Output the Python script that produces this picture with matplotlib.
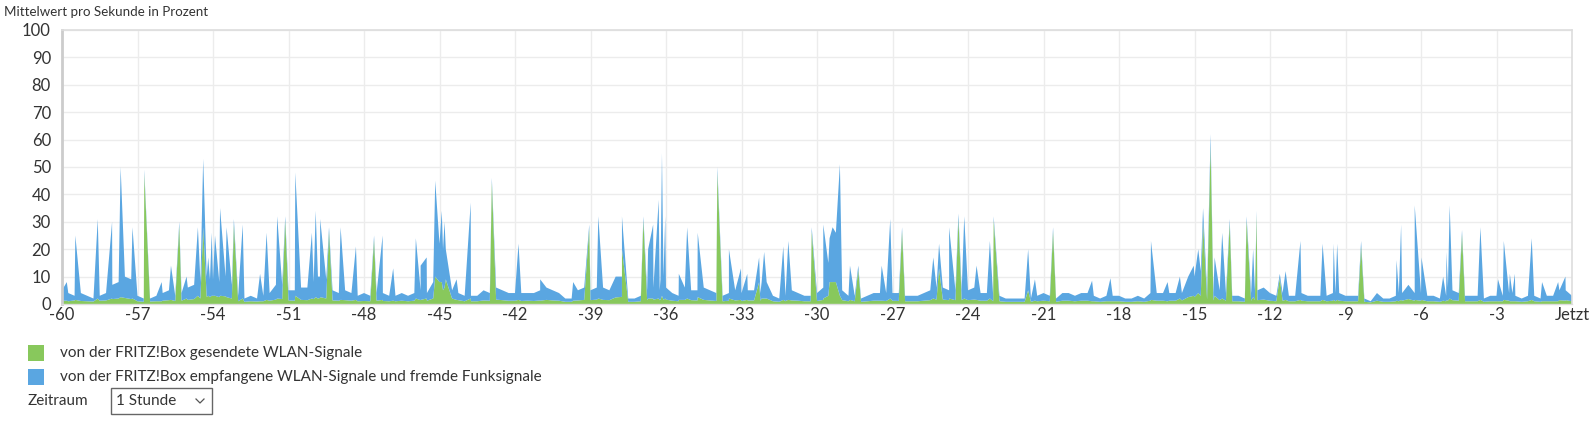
import numpy as np
import matplotlib
matplotlib.use('Agg')
import matplotlib.pyplot as plt
from matplotlib.patches import Rectangle
from matplotlib.lines import Line2D

# ---------------- data ----------------
# baseline samples every 0.25 min from -60 to 0 (total height = sent + received)
total_base = [
    5, 4, 3, 4,   3, 2, 3, 4,   7, 8, 10, 9,   3, 2, 2, 3,   4, 5, 3, 4,      # -60 .. -56
    6, 7, 8, 10,  9, 8, 10, 7,  3, 2, 3, 2,    3, 4, 7, 7,   5, 5, 6, 6,      # -55 .. -51
    8, 10, 9, 5,  4, 5, 4, 3,   4, 3, 4, 4,    3, 3, 4, 3,   4, 5, 4, 8,      # -50 .. -46
    22, 20, 5, 4, 3, 3, 3, 5,   4, 6, 5, 4,    4, 4, 4, 4,   5, 6, 5, 4,      # -45 .. -41
    2, 2, 5, 6,   5, 6, 6, 5,   10, 10, 2, 2,  3, 5, 6, 5,   6, 4, 3, 6,      # -40 .. -36
    5, 5, 6, 5,   4, 3, 4, 5,   4, 5, 5, 4,    8, 3, 2, 3,   5, 4, 3, 3,      # -35 .. -31
    4, 6, 24, 26, 5, 3, 3, 2,   3, 4, 4, 4,    4, 4, 3, 3,   3, 4, 5, 6,      # -30 .. -26
    6, 5, 5, 5,   5, 6, 4, 4,   3, 3, 2, 2,    2, 2, 2, 3,   4, 3, 2, 4,      # -25 .. -21
    4, 3, 4, 4,   3, 2, 3, 3,   3, 2, 2, 3,    2, 4, 4, 4,   4, 4, 4, 10,     # -20 .. -16
    10, 12, 5, 4, 5, 4, 3, 3,   2, 4, 5, 6,    4, 3, 4, 3,   3, 4, 3, 3,      # -15 .. -11
    3, 3, 4, 4,   3, 3, 3, 2,   1, 4, 2, 2,    3, 4, 7, 4,   4, 3, 3, 2,      # -10 .. -6
    3, 5, 4, 3,   3, 3, 2, 3,   3, 3, 4, 3,    2, 3, 3, 2,   3, 3, 5, 5,      # -5 .. -1
    3,                                                                         # 0
]
sent_base = [
    1.2, 1.0, 1.3, 1.1,  1.0, 0.9, 1.2, 1.3,  1.8, 2.0, 2.2, 1.8,  1.0, 0.8, 0.9, 1.0,  1.2, 1.4, 1.1, 1.2,
    1.5, 1.8, 2.0, 2.6,  3.0, 2.5, 2.8, 2.0,  1.0, 0.8, 1.0, 0.9,  1.0, 1.2, 1.6, 1.8,  1.3, 1.2, 1.5, 1.4,
    1.8, 2.2, 2.0, 1.3,  1.2, 1.4, 1.2, 1.0,  1.1, 1.0, 1.2, 1.1,  1.0, 1.0, 1.2, 1.0,  1.2, 1.4, 1.2, 2.0,
    8.0, 9.0, 2.0, 1.4,  1.0, 1.0, 1.0, 1.3,  1.2, 1.6, 1.4, 1.2,  1.2, 1.1, 1.2, 1.1,  1.3, 1.5, 1.3, 1.2,
    0.8, 0.8, 1.3, 1.5,  1.4, 1.6, 1.5, 1.4,  2.4, 2.6, 0.8, 0.8,  1.0, 1.4, 1.6, 1.4,  1.6, 1.2, 1.0, 1.5,
    1.4, 1.3, 1.5, 1.3,  1.1, 1.0, 1.2, 1.3,  1.1, 1.3, 1.3, 1.2,  2.0, 1.0, 0.8, 1.0,  1.3, 1.2, 1.0, 1.0,
    1.1, 1.5, 8.0, 8.0,  1.4, 1.0, 1.0, 0.8,  1.0, 1.2, 1.2, 1.1,  1.2, 1.1, 1.0, 1.0,  1.0, 1.2, 1.4, 1.6,
    1.6, 1.4, 1.4, 1.4,  1.4, 1.6, 1.2, 1.2,  1.0, 1.0, 0.8, 0.8,  0.8, 0.8, 0.8, 1.0,  1.2, 1.0, 0.8, 1.2,
    1.2, 1.0, 1.2, 1.2,  1.0, 0.8, 1.0, 1.0,  1.0, 0.8, 0.8, 1.0,  0.8, 1.2, 1.2, 1.2,  1.2, 1.2, 1.3, 2.5,
    2.5, 3.0, 1.6, 1.3,  1.4, 1.2, 1.0, 1.0,  0.8, 1.2, 1.4, 1.6,  1.2, 1.0, 1.2, 1.0,  1.0, 1.2, 1.0, 1.0,
    1.0, 1.0, 1.2, 1.2,  1.0, 1.0, 1.0, 0.8,  0.6, 1.2, 0.8, 0.8,  1.0, 1.2, 1.8, 1.2,  1.2, 1.0, 1.0, 0.8,
    1.0, 1.4, 1.2, 1.0,  1.0, 1.0, 0.8, 1.0,  1.0, 1.0, 1.2, 1.0,  0.8, 1.0, 1.0, 0.8,  1.0, 1.0, 1.4, 1.4,
    1.0,
]
# individual peaks: time (min), total height, sent part (green)
spike_t = [
    -59.81, -59.47, -58.58, -58.01, -57.67, -57.20, -56.73, -56.04, -55.67, -55.34,
    -55.05, -54.60, -54.39, -54.19, -54.05, -53.92, -53.72, -53.46, -53.17, -52.82,
    -52.13, -51.87, -51.45, -51.13, -50.73, -50.07, -49.92, -49.74, -49.39, -48.93,
    -48.32, -47.60, -47.26, -46.84, -45.94, -45.75, -45.51, -45.17, -44.91, -44.80,
    -44.32, -43.76, -42.92, -41.86, -41.00, -39.69, -39.05, -38.69, -37.75,
    -36.90, -36.71, -36.51, -36.29, -36.16, -36.03, -35.49, -35.16, -34.74, -33.96,
    -33.50, -33.02, -32.77, -32.30, -32.10, -31.34, -31.14, -30.21, -29.75,
    -29.55, -29.38, -29.09, -28.69, -28.36, -27.43, -27.09, -26.62, -25.38, -25.15,
    -24.75, -24.38, -24.15, -23.66, -23.13, -22.98,
    -21.61, -21.34, -20.62, -19.07, -18.34, -16.73, -16.07, -15.58, -15.03, -14.85, -14.66,
    -14.36, -14.20, -13.90, -13.60, -12.93, -12.67, -12.53, -11.61, -11.38, -10.79,
    -9.91, -9.47, -9.33, -8.38,
    -6.97, -6.79, -6.25, -5.98, -5.12, -4.99, -4.86, -4.37, -3.64, -2.94,
    -2.71, -2.47, -2.27, -1.60, -1.19, -0.55, -0.26,
]
spike_total = [
    8, 25, 31, 30, 50, 28, 49, 8, 14, 30,
    10, 28, 53, 17, 26, 25, 35, 28, 31, 29,
    11, 26, 32, 32, 48, 26, 34, 31, 28, 28,
    21, 25, 25, 13, 24, 14, 17, 45, 34, 30,
    9, 37, 46, 22, 9, 8, 29, 32, 32,
    32, 20, 29, 38, 55, 32, 11, 28, 26, 50,
    20, 13, 11, 17, 19, 21, 23, 28, 29,
    15, 28, 51, 14, 14, 14, 31, 28, 17, 22,
    28, 33, 32, 14, 23, 32,
    20, 9, 28, 8.5, 9.4, 23, 8, 10, 14, 20, 35,
    62, 17, 26, 31, 32, 20, 34, 11, 12, 23,
    22, 22, 22, 23,
    16, 29, 36, 17, 10, 19, 36, 27, 28, 9,
    23, 11, 11, 24, 8, 8, 10,
]
spike_sent = [
    1.2, 1.5, 2.0, 2.0, 2.5, 2.0, 47.5, 1.0, 1.5, 28.5,
    2.0, 3.0, 28.0, 3.0, 3.0, 3.0, 3.0, 2.5, 29.0, 2.0,
    1.0, 1.5, 2.0, 30.5, 3.0, 2.0, 2.5, 2.5, 26.5, 1.5,
    1.5, 23.5, 1.5, 1.2, 2.0, 1.5, 2.0, 10.0, 8.0, 6.0,
    1.5, 2.0, 44.5, 1.5, 1.2, 1.2, 27.5, 2.0, 20.0,
    30.5, 2.0, 2.0, 2.0, 3.0, 2.0, 1.5, 2.0, 2.5, 48.0,
    2.0, 1.5, 1.5, 8.0, 2.0, 1.5, 1.5, 26.5, 2.0,
    3.0, 8.0, 3.0, 1.5, 12.5, 1.2, 2.0, 26.5, 2.0, 13.0,
    2.0, 31.0, 2.0, 1.5, 2.0, 30.5,
    5.0, 1.2, 26.5, 1.0, 1.0, 1.5, 1.0, 2.0, 3.0, 4.0, 30.0,
    58.0, 3.0, 2.0, 29.5, 30.5, 2.5, 32.5, 9.5, 1.5, 1.5,
    1.5, 1.5, 1.5, 21.0,
    1.2, 1.5, 1.5, 1.5, 1.2, 1.5, 2.0, 25.5, 1.5, 1.0,
    1.5, 1.0, 1.0, 1.5, 1.0, 1.0, 1.2,
]
# valleys between closely spaced peaks: time, total height, sent part
dip_t = [-49.83, -36.22, -36.10, -32.20, -31.24, -12.60, -9.40, -6.88, -4.93, -2.37, -44.86, -54.12]
dip_total = [10, 9, 10, 8, 5, 5, 4, 4, 6, 4, 20, 9]
dip_sent = [2.0, 1.5, 1.5, 2.0, 1.2, 1.5, 1.0, 1.0, 1.2, 1.0, 5.0, 2.5]

x_tick_values = list(range(-60, 1, 3))
x_tick_labels = [str(v) for v in range(-60, 0, 3)] + ['Jetzt']
y_tick_values = list(range(0, 101, 10))
legend_labels = ['von der FRITZ!Box gesendete WLAN-Signale',
                 'von der FRITZ!Box empfangene WLAN-Signale und fremde Funksignale']

# ---------------- build series ----------------
base_t = np.arange(len(total_base)) * 0.25 - 60
t = np.concatenate([base_t, np.array(spike_t), np.array(dip_t)])
tot = np.concatenate([np.array(total_base, float), np.array(spike_total, float),
                      np.array(dip_total, float)])
snt = np.concatenate([np.array(sent_base, float), np.array(spike_sent, float),
                      np.array(dip_sent, float)])
order = np.argsort(t, kind='stable')
t, tot, snt = t[order], tot[order], snt[order]
received = np.clip(tot - snt, 0, None)

GREEN = '#88c85c'
BLUE = '#5aa6e1'
TXT = '#333333'

plt.rcParams['font.family'] = ['Lato', 'DejaVu Sans']

W, H = 1593, 424
fig = plt.figure(figsize=(W / 100, H / 100), dpi=100)
ax = fig.add_axes([62 / W, 1 - 304 / H, 1510 / W, 274 / H])

ax.stackplot(t, snt, received, colors=[GREEN, BLUE], linewidth=0, zorder=2)
ax.set_xlim(-60, 0)
ax.set_ylim(0, 100)
ax.set_xticks(x_tick_values)
ax.set_xticklabels(x_tick_labels)
ax.set_yticks(y_tick_values)
ax.grid(True, color='#ececec', linewidth=1, zorder=0)
ax.set_axisbelow(True)
for s in ['top', 'right']:
    ax.spines[s].set_color('#dddddd')
    ax.spines[s].set_linewidth(1.2)
ax.spines['left'].set_color('#cccccc')
ax.spines['left'].set_linewidth(2)
ax.spines['bottom'].set_color('#dddddd')
ax.spines['bottom'].set_linewidth(1)
ax.tick_params(axis='both', length=0, labelsize=12, colors=TXT)
ax.tick_params(axis='y', pad=8)
ax.tick_params(axis='x', pad=2)

def fx(px):
    return px / W

def fy(py):
    return 1 - py / H

fig.text(fx(4), fy(12), 'Mittelwert pro Sekunde in Prozent', fontsize=9.6, color=TXT,
         va='center', ha='left')

# legend
for i, (lab, col) in enumerate(zip(legend_labels, [GREEN, BLUE])):
    yc = 353 + 24 * i
    fig.patches.append(Rectangle((fx(28), fy(yc + 8)), 16 / W, 16 / H,
                                 transform=fig.transFigure, facecolor=col, edgecolor='none'))
    fig.text(fx(60), fy(yc), lab, fontsize=11, color=TXT, va='center', ha='left')

# Zeitraum selector
fig.text(fx(28), fy(401), 'Zeitraum', fontsize=11, color=TXT, va='center', ha='left')
fig.patches.append(Rectangle((fx(111), fy(414)), 101 / W, 26 / H, transform=fig.transFigure,
                             facecolor='white', edgecolor='#666666', linewidth=1))
fig.text(fx(116), fy(401), '1 Stunde', fontsize=11, color=TXT, va='center', ha='left')
fig.lines.append(Line2D([fx(196), fx(200), fx(204)], [fy(399), fy(403), fy(399)],
                        transform=fig.transFigure, color='#555555', linewidth=0.9))

fig.savefig('out.png', dpi=100)
